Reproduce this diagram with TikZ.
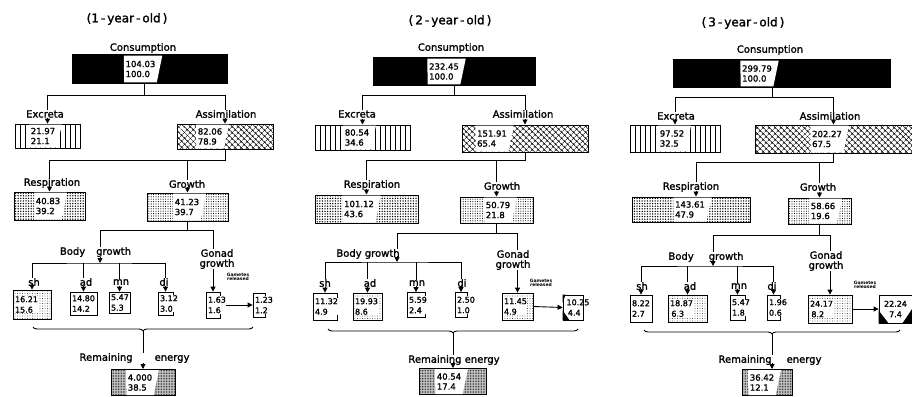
\documentclass[tikz,border=0pt]{standalone}
\usepackage{fontspec}
\setmainfont{DejaVu Sans}
\newfontfamily\heavy{DejaVu Sans}[FakeBold=1.5]
\usetikzlibrary{arrows.meta,patterns.meta,shapes.geometric,decorations.pathreplacing}

\begin{document}
\begin{tikzpicture}[x=1pt, y=-1pt, line width=0.9pt,
    ttl/.style={inner sep=0pt, font=\heavy\fontsize{12}{12}\selectfont},
    lbl/.style={inner sep=0pt, align=center, font=\heavy\fontsize{10}{10}\selectfont},
    gam/.style={inner sep=0pt, align=center, font=\bfseries\fontsize{4.5}{4.6}\selectfont},
    ebox/.style 2 args={draw, line width=1pt, inner sep=0pt, minimum width=#1, minimum height=#2},
    sbox/.style 2 args={draw, line width=0.8pt, fill=white, inner sep=0pt, minimum width=#1, minimum height=#2},
    val/.style={trapezium, trapezium stretches=true, shape border rotate=180,
      trapezium left angle=72, trapezium right angle=89,
      fill=white, inner xsep=1.5pt, inner ysep=0pt, minimum height=#1, align=left,
      font=\heavy\fontsize{8.5}{10}\selectfont},
    stxt/.style={anchor=west, fill=white, inner sep=0.5pt, align=left, font=\heavy\fontsize{8}{10.5}\selectfont},
    arr/.style={-{Triangle[width=5pt,length=5pt]}},
    brc/.style={decorate, decoration={brace, mirror, amplitude=4pt}},
    excfill/.style={pattern={Lines[angle=90,distance=5pt,line width=0.7pt]}},
    assfill/.style={pattern={Hatch[angle=45,distance=4pt,line width=0.6pt]}},
    respfill/.style={pattern={Dots[distance=2.6pt,radius=0.75pt]}},
    growfill/.style={pattern={Dots[distance=2.4pt,radius=0.55pt]}},
    remfill/.style={preaction={fill=gray!40}, pattern={Dots[distance=1.6pt,radius=0.45pt]}},
    dotfill/.style={pattern={Dots[distance=2.5pt,radius=0.45pt]}}]
  \useasboundingbox (0,0) rectangle (912,396);

  % ---------- 1-year-old ----------
  \node[ttl] (t1) at (127,19) {(1\,-\,year\,-\,old\,)};
  \node[lbl] (lcons1) at (143,48) {Consumption};
  \node[ebox={155}{28}, fill=black] (cons1) at (149.5,69) {};
  \node[val=26.5] (cons1v) at (140.5,69) {104.03\\100.0};
  \node[lbl] (lexc1) at (45,114) {Excreta};
  \node[ebox={65}{24}, excfill] (exc1) at (47.5,136) {};
  \node[val=23] (exc1v) at (43,136) {21.97\\21.1};
  \node[lbl] (lass1) at (226,114) {Assimilation};
  \node[ebox={96}{25}, assfill] (ass1) at (225,136.5) {};
  \node[val=24] (ass1v) at (210,136.5) {82.06\\78.9};
  \node[lbl] (lresp1) at (52,183) {Respiration};
  \node[ebox={71}{28}, respfill] (resp1) at (49.5,206) {};
  \node[val=27] (resp1v) at (48,206) {40.83\\39.2};
  \node[lbl] (lgrow1) at (187,184) {Growth};
  \node[ebox={81}{28}, growfill] (grow1) at (187.5,207) {};
  \node[val=27] (grow1v) at (187,207) {41.23\\39.7};
  \node[lbl] (lbody1) at (95.5,252) {Body\hspace{11pt}growth};
  \node[lbl] (lgon1) at (217,259) {Gonad\\growth};
  \coordinate (bb1) at (100,263);
  \node[lbl] (lsh1) at (34,282) {sh};
  \node[lbl] (lad1) at (86,282) {ad};
  \node[lbl] (lmn1) at (121,282) {mn};
  \node[lbl] (ldi1) at (164,282) {di};
  \node[sbox={38}{29}, dotfill] (sh1) at (32,304.5) {};
  \node[sbox={27}{23}] (ad1) at (83.5,303.5) {};
  \node[sbox={21}{21}] (mn1) at (119.5,302.5) {};
  \node[sbox={15}{23}] (di1) at (165.5,303.5) {};
  \node[sbox={14}{26}] (gon1) at (213,305) {};
  \node[sbox={12}{24}] (gam1) at (259,305) {};
  \node[gam] (lgam1) at (238,277) {Gametes\\released};
  \coordinate (bl1) at (33,327);
  \coordinate (br1) at (253,327);
  \coordinate (bt1) at (143,331);
  \node[lbl] (lrem1) at (134.5,358) {Remaining\hspace{22pt}energy};
  \node[ebox={64}{26}, remfill] (rem1) at (143,382.5) {};
  \node[val=25] (rem1v) at (140,382.5) {4.000\\38.5};

  \draw ([xshift=-5.5pt]cons1.south) -- ++(0,12) coordinate (k11) -| (exc1.north |- lexc1.north);
  \draw (k11) -| (ass1.north |- lass1.north);
  \draw[arr] ([yshift=6pt]exc1.north) -- (exc1.north);
  \draw[arr] ([yshift=6pt]ass1.north) -- (ass1.north);
  \draw (ass1.south) -- ++(0,11) coordinate (k12) -| (resp1.north |- lresp1.north);
  \draw (k12) -| (grow1.north |- lgrow1.north);
  \draw[arr] ([yshift=6pt]resp1.north) -- (resp1.north);
  \draw[arr] ([yshift=6pt]grow1.north) -- (grow1.north);
  \draw (grow1.south) -- ++(0,9) coordinate (k13) -| (bb1 |- lbody1.north);
  \draw (k13) -| (gon1.north |- lgon1.north);
  \draw[arr] ([yshift=6pt]bb1) -- (bb1);
  \draw (sh1.north |- lsh1.north) |- (bb1) -| (di1.north |- ldi1.north);
  \draw (ad1.north |- lad1.north) -- (ad1.north |- bb1);
  \draw (mn1.north |- lmn1.north) -- (mn1.north |- bb1);
  \draw[arr] ([yshift=6pt]sh1.north) -- (sh1.north);
  \draw[arr] ([yshift=6pt]ad1.north) -- (ad1.north);
  \draw[arr] ([yshift=6pt]mn1.north) -- (mn1.north);
  \draw[arr] ([yshift=6pt]di1.north) -- (di1.north);
  \draw[arr] (lgon1.south -| gon1.north) -- (gon1.north);
  \draw[arr] (gon1.east) -- (gam1.west);
  \draw[brc] (bl1) -- (br1);
  \draw (bt1) -- (bt1 |- lrem1.north);
  \draw[arr] ([yshift=6pt]rem1.north) -- (rem1.north);
  \node[stxt] (sh1t) at ([xshift=1.5pt]sh1.west) {16.21\\15.6};
  \node[stxt] (ad1t) at ([xshift=1.5pt]ad1.west) {14.80\\14.2};
  \node[stxt] (mn1t) at ([xshift=1.5pt]mn1.west) {5.47\\5.3};
  \node[stxt] (di1t) at ([xshift=1.5pt]di1.west) {3.12\\3.0};
  \node[stxt] (gon1t) at ([xshift=1.5pt]gon1.west) {1.63\\1.6};
  \node[stxt] (gam1t) at ([xshift=1.5pt]gam1.west) {1.23\\1.2};

  % ---------- 2-year-old ----------
  \node[ttl] (t2) at (450,21) {(\,2\,-\,year\,-\,old\,)};
  \node[lbl] (lcons2) at (451,48) {Consumption};
  \node[ebox={162}{27}, fill=black] (cons2) at (454,71.5) {};
  \node[val=25.5] (cons2v) at (444,71.5) {232.45\\100.0};
  \node[lbl] (lexc2) at (357,114) {Excreta};
  \node[ebox={95}{25}, excfill] (exc2) at (362.5,137.5) {};
  \node[val=24] (exc2v) at (357,137.5) {80.54\\34.6};
  \node[lbl] (lass2) at (523,114) {Assimilation};
  \node[ebox={126}{27}, assfill] (ass2) at (525,138.5) {};
  \node[val=26] (ass2v) at (492,138.5) {151.91\\65.4};
  \node[lbl] (lresp2) at (372,185) {Respiration};
  \node[ebox={103}{28}, respfill] (resp2) at (366.5,209) {};
  \node[val=27] (resp2v) at (359,209) {101.12\\43.6};
  \node[lbl] (lgrow2) at (502,186) {Growth};
  \node[ebox={73}{26}, growfill] (grow2) at (496.5,210) {};
  \node[val=25] (grow2v) at (498,210) {50.79\\21.8};
  \node[lbl] (lbody2) at (368,254) {Body growth};
  \node[lbl] (lgon2) at (513,260) {Gonad\\growth};
  \coordinate (bb2) at (397,262);
  \node[lbl] (lsh2) at (325,283) {sh};
  \node[lbl] (lad2) at (370,283) {ad};
  \node[lbl] (lmn2) at (417,283) {mn};
  \node[lbl] (ldi2) at (462,283) {di};
  \node[sbox={24}{27}] (sh2) at (325,306.5) {};
  \node[sbox={29}{27}, dotfill] (ad2) at (367.5,306.5) {};
  \node[sbox={18}{25}] (mn2) at (416,305) {};
  \node[sbox={12}{25}] (di2) at (461,305) {};
  \node[sbox={31}{27}, dotfill] (gon2) at (517.5,306.5) {};
  \node[sbox={20}{25}] (gam2) at (573,307.5) {};
  \fill (gam2.south west) -- ++(7,0) -- ++(-7,-10) -- cycle;
  \fill (gam2.north west) -- ++(3,0) -- ++(-3,8) -- cycle;
  \node[gam] (lgam2) at (541,283) {Gametes\\released};
  \coordinate (bl2) at (328,329);
  \coordinate (br2) at (578,329);
  \coordinate (bt2) at (453,333);
  \node[lbl] (lrem2) at (454,360) {Remaining energy};
  \node[ebox={67}{26}, remfill] (rem2) at (453,381.5) {};
  \node[val=25] (rem2v) at (449,381.5) {40.54\\17.4};

  \draw (cons2.south) -- ++(0,10) coordinate (k21) -| (exc2.north |- lexc2.north);
  \draw (k21) -| (ass2.north |- lass2.north);
  \draw[arr] ([yshift=6pt]exc2.north) -- (exc2.north);
  \draw[arr] ([yshift=6pt]ass2.north) -- (ass2.north);
  \draw (ass2.south) -- ++(0,8) coordinate (k22) -| (resp2.north |- lresp2.north);
  \draw (k22) -| (grow2.north |- lgrow2.north);
  \draw[arr] ([yshift=6pt]resp2.north) -- (resp2.north);
  \draw[arr] ([yshift=6pt]grow2.north) -- (grow2.north);
  \draw (grow2.south) -- ++(0,10) coordinate (k23) -| (bb2 |- lbody2.north);
  \draw (k23) -| (gon2.north |- lgon2.north);
  \draw[arr] ([yshift=6pt]bb2) -- (bb2);
  \draw (sh2.north |- lsh2.north) |- (bb2) -| (di2.north |- ldi2.north);
  \draw (ad2.north |- lad2.north) -- (ad2.north |- bb2);
  \draw (mn2.north |- lmn2.north) -- (mn2.north |- bb2);
  \draw[arr] ([yshift=6pt]sh2.north) -- (sh2.north);
  \draw[arr] ([yshift=6pt]ad2.north) -- (ad2.north);
  \draw[arr] ([yshift=6pt]mn2.north) -- (mn2.north);
  \draw[arr] ([yshift=6pt]di2.north) -- (di2.north);
  \draw[arr] (lgon2.south -| gon2.north) -- (gon2.north);
  \draw[arr] (gon2.east) -- (gam2.west);
  \draw[brc] (bl2) -- (br2);
  \draw (bt2) -- (bt2 |- lrem2.north);
  \draw[arr] ([yshift=6pt]rem2.north) -- (rem2.north);
  \node[stxt] (sh2t) at ([xshift=1.5pt]sh2.west) {11.32\\4.9};
  \node[stxt] (ad2t) at ([xshift=1.5pt]ad2.west) {19.93\\8.6};
  \node[stxt] (mn2t) at ([xshift=1.5pt]mn2.west) {5.59\\2.4};
  \node[stxt] (di2t) at ([xshift=1.5pt]di2.west) {2.50\\1.0};
  \node[stxt] (gon2t) at ([xshift=1.5pt]gon2.west) {11.45\\4.9};
  \node[stxt, fill=none] (gam2t) at ([xshift=3pt]gam2.west) {10.25\\\,4.4};

  % ---------- 3-year-old ----------
  \node[ttl] (t3) at (743,23) {(\,3\,-\,year\,-\,old\,)};
  \node[lbl] (lcons3) at (770,50) {Consumption};
  \node[ebox={217}{27}, fill=black] (cons3) at (781.5,73.5) {};
  \node[val=25.5] (cons3v) at (757,73.5) {299.79\\100.0};
  \node[lbl] (lexc3) at (676,116) {Excreta};
  \node[ebox={90}{27}, excfill] (exc3) at (675,138.5) {};
  \node[val=26] (exc3v) at (672,138.5) {97.52\\32.5};
  \node[lbl] (lass3) at (830,116) {Assimilation};
  \node[ebox={157}{28}, assfill] (ass3) at (833.5,139) {};
  \node[val=27] (ass3v) at (827,139) {202.27\\67.5};
  \node[lbl] (lresp3) at (691,187) {Respiration};
  \node[ebox={118}{25}, respfill] (resp3) at (691,209.5) {};
  \node[val=24] (resp3v) at (690,209.5) {143.61\\47.9};
  \coordinate (r3) at ([xshift=5pt]resp3.north);
  \node[lbl] (lgrow3) at (818,187) {Growth};
  \node[ebox={63}{26}, growfill] (grow3) at (819.5,211) {};
  \node[val=25] (grow3v) at (823,211) {58.66\\19.6};
  \node[lbl] (lbody3) at (706,257) {Body\hspace{15pt}growth};
  \node[lbl] (lgon3) at (826,261) {Gonad\\growth};
  \coordinate (bb3) at (713,266);
  \node[lbl] (lsh3) at (642,286) {sh};
  \node[lbl] (lad3) at (690,286) {ad};
  \node[lbl] (lmn3) at (739,286) {mn};
  \node[lbl] (ldi3) at (772,286) {di};
  \node[sbox={22}{27}] (sh3) at (641,308.5) {};
  \node[sbox={39}{27}, dotfill] (ad3) at (687.5,308.5) {};
  \node[sbox={15}{25}] (mn3) at (737.5,307.5) {};
  \node[sbox={13}{25}] (di3) at (773.5,307.5) {};
  \node[sbox={44}{28}, dotfill] (gon3) at (830,309) {};
  \node[sbox={33}{28}] (gam3) at (895.5,309) {};
  \fill (gam3.south west) -- ++(10,0) -- ++(-10,-13) -- cycle;
  \fill (gam3.south east) -- ++(-10,0) -- ++(10,-15) -- cycle;
  \node[gam] (lgam3) at (865,285) {Gametes\\released};
  \coordinate (bl3) at (644,330);
  \coordinate (br3) at (900,330);
  \coordinate (bt3) at (772,334);
  \node[lbl] (lrem3) at (770,360) {Remaining\hspace{15pt}energy};
  \node[ebox={50}{26}, remfill] (rem3) at (767,382.5) {};
  \node[val=25] (rem3v) at (762,382.5) {36.42\\12.1};
  \coordinate (r3b) at ([xshift=5pt]rem3.north);

  \draw ([xshift=-9.5pt]cons3.south) -- ++(0,10) coordinate (k31) -| (exc3.north |- lexc3.north);
  \draw (k31) -| (ass3.north |- lass3.north);
  \draw[arr] ([yshift=6pt]exc3.north) -- (exc3.north);
  \draw[arr] ([yshift=6pt]ass3.north) -- (ass3.north);
  \draw (ass3.south) -- ++(0,9) coordinate (k32) -| (r3 |- lresp3.north);
  \draw (k32) -| (grow3.north |- lgrow3.north);
  \draw[arr] ([yshift=6pt]r3) -- (r3);
  \draw[arr] ([yshift=6pt]grow3.north) -- (grow3.north);
  \draw (grow3.south) -- ++(0,11) coordinate (k33) -| (bb3 |- lbody3.north);
  \draw (k33) -| (gon3.north |- lgon3.north);
  \draw[arr] ([yshift=6pt]bb3) -- (bb3);
  \draw (sh3.north |- lsh3.north) |- (bb3) -| (di3.north |- ldi3.north);
  \draw (ad3.north |- lad3.north) -- (ad3.north |- bb3);
  \draw (mn3.north |- lmn3.north) -- (mn3.north |- bb3);
  \draw[arr] ([yshift=6pt]sh3.north) -- (sh3.north);
  \draw[arr] ([yshift=6pt]ad3.north) -- (ad3.north);
  \draw[arr] ([yshift=6pt]mn3.north) -- (mn3.north);
  \draw[arr] ([yshift=6pt]di3.north) -- (di3.north);
  \draw[arr] (lgon3.south -| gon3.north) -- (gon3.north);
  \draw[arr] (gon3.east) -- (gam3.west);
  \draw[brc] (bl3) -- (br3);
  \draw (bt3) -- (bt3 |- lrem3.north);
  \draw[arr] ([yshift=6pt]r3b) -- (r3b);
  \node[stxt] (sh3t) at ([xshift=1.5pt]sh3.west) {8.22\\2.7};
  \node[stxt] (ad3t) at ([xshift=1.5pt]ad3.west) {18.87\\\,6.3};
  \node[stxt] (mn3t) at ([xshift=1.5pt]mn3.west) {5.47\\1.8};
  \node[stxt] (di3t) at ([xshift=1.5pt]di3.west) {1.96\\0.6};
  \node[stxt] (gon3t) at ([xshift=1.5pt]gon3.west) {24.17\\\,8.2};
  \node[stxt, fill=none, anchor=center, align=center] (gam3t) at (gam3) {22.24\\7.4};
\end{tikzpicture}
\end{document}
